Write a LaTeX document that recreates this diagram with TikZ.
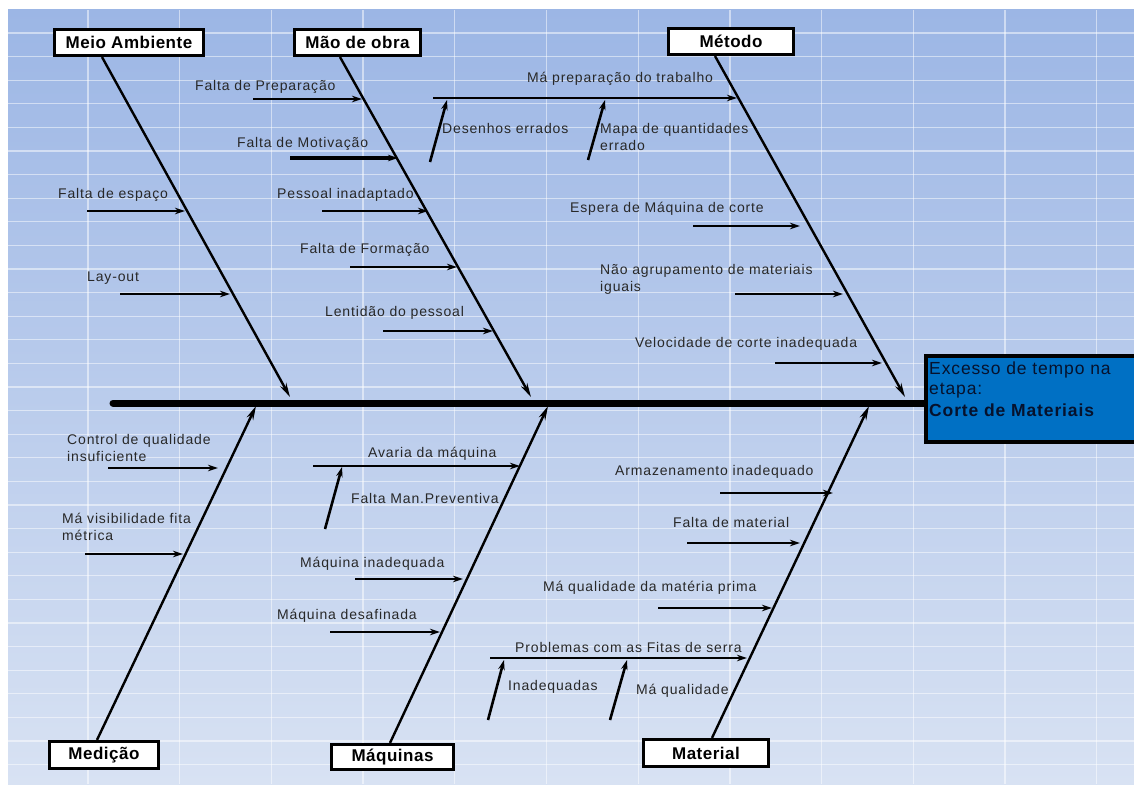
\documentclass[tikz,border=0pt]{standalone}
\usepackage{fontspec}
\setmainfont{Liberation Sans}
\newfontfamily\lblfont[LetterSpace=6]{Liberation Sans}
\newfontfamily\catfont[LetterSpace=3]{Liberation Sans}
\newfontfamily\efffont[LetterSpace=5]{Liberation Sans}
\usetikzlibrary{arrows.meta}
\definecolor{bgtop}{RGB}{156,182,229}
\definecolor{bgbot}{RGB}{216,226,243}
\definecolor{labcol}{RGB}{40,40,40}
\definecolor{effblue}{RGB}{0,112,196}
\definecolor{efftext}{RGB}{6,18,45}
\newcommand\twoln[2]{\begin{tabular}[t]{@{}l@{}}#1\\#2\end{tabular}}
\newcommand\mkarrow[5][]{%
  \coordinate (#2s) at (#3,#5);
  \coordinate (#2e) at (#4,#5);
  \draw[subarrow,#1] (#2s) -- (#2e);}
\newcommand\mkslant[5]{%
  \coordinate (#1s) at (#2,#3);
  \coordinate (#1e) at (#4,#5);
  \draw[subarrow] (#1s) -- (#1e);}
\begin{document}
\begin{tikzpicture}[x=1pt,y=-1pt,
  lab/.style={anchor=base west, inner sep=0pt, text=labcol,
    font=\lblfont\fontsize{14}{17}\selectfont},
  catbox/.style={draw=black, line width=2.6pt, fill=white, inner sep=0pt,
    font=\catfont\bfseries\fontsize{17}{19}\selectfont},
  subarrow/.style={line width=2.6pt, -{Stealth[length=10pt,width=6.5pt]}},
  bone/.style={line width=2.4pt, -{Stealth[length=14pt,width=7pt]}},
  gridln/.style={white, opacity=0.5, line width=1.3pt}
]
\useasboundingbox (0,0) rectangle (1134,784);
\fill[white] (0,0) rectangle (1134,784);
\shade[top color=bgtop, bottom color=bgbot] (8,10) rectangle (1134,784);
% grid
\foreach \k in {0,...,11} \draw[gridln] ({88+91.7*\k},10) -- ({88+91.7*\k},784);
\foreach \n in {0,...,31} \draw[gridln] (8,{33+23.6*\n}) -- (1134,{33+23.6*\n});

% effect box
\node[draw=black, line width=4pt, fill=effblue, anchor=north west,
      minimum width=230pt, minimum height=86pt] (effect) at (924,354) {};
\node[anchor=base west, inner sep=0pt, text=efftext,
      font=\efffont\fontsize{17.5}{20}\selectfont] (efftxt) at (929,374)
  {\begin{tabular}[t]{@{}l@{}}Excesso de tempo na\\etapa:\\[2pt]\textbf{Corte de Materiais}\end{tabular}};

% spine
\coordinate (spL) at (113,403);
\draw[line width=7pt, line cap=round] (spL) -- (spL -| effect.west);

% category boxes
\node[catbox, minimum width=149.5pt, minimum height=26.5pt] (meio) at (129,42.5) {Meio Ambiente};
\node[catbox, minimum width=126.5pt, minimum height=26.5pt] (mao) at (357.5,42.5) {Mão de obra};
\node[catbox, minimum width=125.5pt, minimum height=26.5pt] (metodo) at (731,41.5) {Método};
\node[catbox, minimum width=109.5pt, minimum height=27.5pt] (medicao) at (104,755) {Medição};
\node[catbox, minimum width=122.5pt, minimum height=25.5pt] (maquinas) at (392.5,757) {Máquinas};
\node[catbox, minimum width=125.5pt, minimum height=27.5pt] (material) at (706,753) {Material};

% main bones
\coordinate (bMeio) at (290,397);
\coordinate (bMao) at (531,397);
\coordinate (bMetodo) at (905,397);
\coordinate (bMedicao) at (256,406);
\coordinate (bMaquinas) at (548,406);
\coordinate (bMaterial) at (869,406);
\draw[bone] ([xshift=-27pt]meio.south) -- (bMeio);
\draw[bone] ([xshift=-17.5pt]mao.south) -- (bMao);
\draw[bone] ([xshift=-16pt]metodo.south) -- (bMetodo);
\draw[bone] ([xshift=-7pt]medicao.north) -- (bMedicao);
\draw[bone] ([xshift=-2.5pt]maquinas.north) -- (bMaquinas);
\draw[bone] ([xshift=6pt]material.north) -- (bMaterial);

% Meio Ambiente causes
\node[lab] (l1) at (58,198) {Falta de espaço};
\mkarrow{a1}{87}{185}{211}
\node[lab] (l2) at (87,281) {Lay-out};
\mkarrow{a2}{120}{230}{294}

% Mao de obra causes
\node[lab] (l3) at (195,90) {Falta de Preparação};
\mkarrow{a3}{253}{362}{99}
\node[lab] (l4) at (237,147) {Falta de Motivação};
\mkarrow[line width=3.6pt]{a4}{290}{398}{158}
\node[lab] (l5) at (277,198) {Pessoal inadaptado};
\mkarrow{a5}{322}{428}{211}
\node[lab] (l6) at (300,253) {Falta de Formação};
\mkarrow{a6}{350}{457}{267}
\node[lab] (l7) at (325,316) {Lentidão do pessoal};
\mkarrow{a7}{383}{493}{331}

% Metodo causes
\node[lab] (l8) at (527,82) {Má preparação do trabalho};
\mkarrow{a8}{433}{737}{98}
\node[lab] (l9) at (442,133) {Desenhos errados};
\mkslant{a9}{430}{162}{447}{100}
\node[lab] (l10) at (600,133) {\twoln{Mapa de quantidades}{errado}};
\mkslant{a10}{588}{160}{605}{100}
\node[lab] (l11) at (570,212) {Espera de Máquina de corte};
\mkarrow{a11}{693}{800}{226}
\node[lab] (l12) at (600,274) {\twoln{Não agrupamento de materiais}{iguais}};
\mkarrow{a12}{735}{843}{294}
\node[lab] (l13) at (635,347) {Velocidade de corte inadequada};
\mkarrow{a13}{775}{882}{363}

% Medicao causes
\node[lab] (l14) at (67,444) {\twoln{Control de qualidade}{insuficiente}};
\mkarrow{a14}{108}{218}{468}
\node[lab] (l15) at (62,523) {\twoln{Má visibilidade fita}{métrica}};
\mkarrow{a15}{85}{183}{554}

% Maquinas causes
\node[lab] (l16) at (368,457) {Avaria da máquina};
\mkarrow{a16}{313}{520}{466}
\node[lab] (l17) at (351,503) {Falta Man.Preventiva};
\mkslant{a17}{325}{529}{342}{467}
\node[lab] (l18) at (300,567) {Máquina inadequada};
\mkarrow{a18}{355}{463}{579}
\node[lab] (l19) at (277,619) {Máquina desafinada};
\mkarrow{a19}{330}{440}{632}

% Material causes
\node[lab] (l20) at (615,475) {Armazenamento inadequado};
\mkarrow{a20}{720}{833}{493}
\node[lab] (l21) at (673,527) {Falta de material};
\mkarrow{a21}{687}{800}{543}
\node[lab] (l22) at (543,591) {Má qualidade da matéria prima};
\mkarrow{a22}{658}{772}{608}
\node[lab] (l23) at (515,652) {Problemas com as Fitas de serra};
\mkarrow{a23}{490}{747}{658}
\node[lab] (l24) at (508,690) {Inadequadas};
\mkslant{a24}{488}{720}{504}{660}
\node[lab] (l25) at (636,694) {Má qualidade};
\mkslant{a25}{610}{720}{627}{660}
\end{tikzpicture}
\end{document}
